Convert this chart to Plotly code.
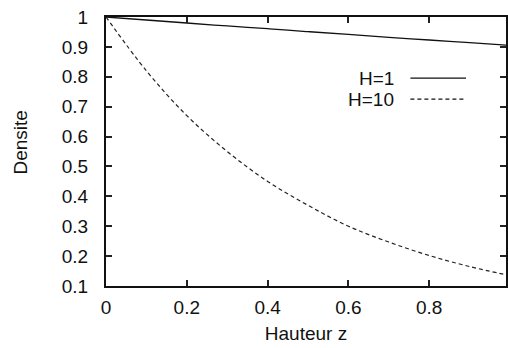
import plotly.graph_objects as go

z = [0.0, 0.1, 0.2, 0.3, 0.4, 0.5, 0.6, 0.7, 0.8, 0.9, 1.0]
dens_h1 = [1.0, 0.99, 0.98, 0.97, 0.961, 0.951, 0.942, 0.932, 0.923, 0.914, 0.905]
dens_h10 = [1.0, 0.82, 0.67, 0.55, 0.45, 0.37, 0.30, 0.247, 0.202, 0.165, 0.135]
x_ticks = [0, 0.2, 0.4, 0.6, 0.8]
x_labels = ["0", "0.2", "0.4", "0.6", "0.8"]
y_ticks = [0.1, 0.2, 0.3, 0.4, 0.5, 0.6, 0.7, 0.8, 0.9, 1.0]
y_labels = ["0.1", "0.2", "0.3", "0.4", "0.5", "0.6", "0.7", "0.8", "0.9", "1"]
series_names = ["H=1", "H=10"]

font = "Liberation Sans, Arial, sans-serif"
fsize = 19

fig = go.Figure()
fig.add_trace(go.Scatter(x=z, y=dens_h1, mode="lines", name=series_names[0],
                         line=dict(color="#111111", width=1.3, shape="spline"),
                         showlegend=False))
fig.add_trace(go.Scatter(x=z, y=dens_h10, mode="lines", name=series_names[1],
                         line=dict(color="#222222", width=1.2, dash="4px,3px", shape="spline"),
                         showlegend=False))

# gnuplot-style key: text then line sample
key_y = [0.773, 0.695]
for name, yp, dash in zip(series_names, key_y, ["solid", "4px,3px"]):
    fig.add_annotation(x=0.726, y=yp, xref="paper", yref="paper", text=name,
                       showarrow=False, xanchor="right", yanchor="middle",
                       font=dict(family=font, size=fsize, color="#111111"))
    fig.add_shape(type="line", xref="paper", yref="paper",
                  x0=0.761, x1=0.90, y0=yp, y1=yp,
                  line=dict(color="#111111", width=1.2, dash=dash))

# y-axis title (gnuplot places it slightly above centre)
fig.add_annotation(x=-0.214, y=0.535, xref="paper", yref="paper", text="Densite",
                   textangle=-90, showarrow=False, xanchor="center", yanchor="middle",
                   font=dict(family=font, size=fsize, color="#111111"))

axis_common = dict(showline=True, linecolor="#111111", linewidth=2, mirror="ticks",
                   ticks="inside", ticklen=6, tickwidth=1.5, tickcolor="#222222",
                   showgrid=False, zeroline=False,
                   tickfont=dict(family=font, size=fsize, color="#111111"))

fig.update_xaxes(range=[0, 0.99], tickvals=x_ticks, ticktext=x_labels,
                 ticklabelstandoff=3,
                 title=dict(text="Hauteur z", font=dict(family=font, size=fsize, color="#111111"),
                            standoff=10),
                 **axis_common)
fig.update_yaxes(range=[0.1, 1.0], tickvals=y_ticks, ticktext=y_labels,
                 ticklabelstandoff=12,
                 **axis_common)

fig.update_layout(width=508, height=348, margin=dict(l=106, r=0, t=17, b=62),
                  plot_bgcolor="white", paper_bgcolor="white")

fig.write_html("out.html")
